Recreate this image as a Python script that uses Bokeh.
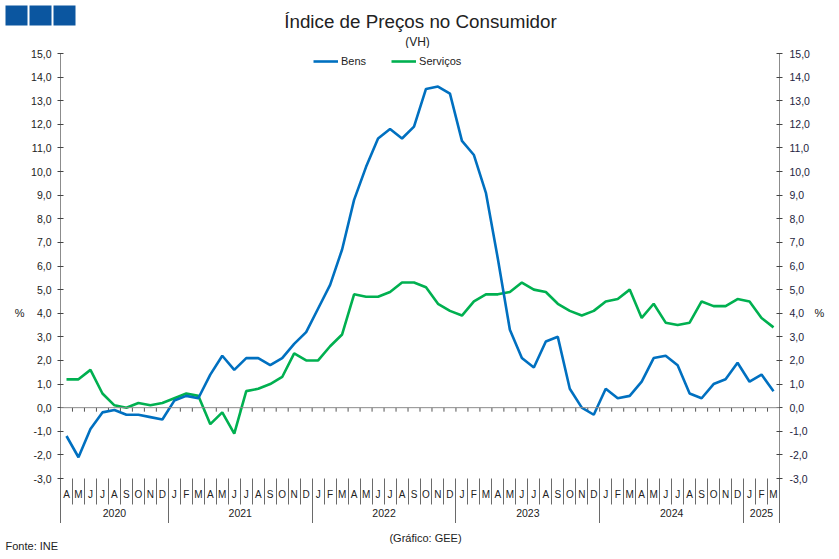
from bokeh.plotting import figure
from bokeh.layouts import column
from bokeh.models import (Range1d, LinearAxis, FixedTicker, Label, Span, Legend,
                          LegendItem, ColumnDataSource)
from bokeh.embed import file_html
from bokeh.resources import INLINE

# ---- data ----
years = ["2020", "2021", "2022", "2023", "2024", "2025"]
months_per_year = [9, 12, 12, 12, 12, 3]
month_labels = (["A", "M", "J", "J", "A", "S", "O", "N", "D"]
                + ["J", "F", "M", "A", "M", "J", "J", "A", "S", "O", "N", "D"] * 4
                + ["J", "F", "M"])
bens = [-1.2, -2.1, -0.9, -0.2, -0.1, -0.3, -0.3, -0.4, -0.5,
        0.3, 0.5, 0.4, 1.4, 2.2, 1.6, 2.1, 2.1, 1.8, 2.1, 2.7, 3.2,
        4.2, 5.2, 6.7, 8.8, 10.2, 11.4, 11.8, 11.4, 11.9, 13.5, 13.6, 13.3,
        11.3, 10.7, 9.1, 6.3, 3.3, 2.1, 1.7, 2.8, 3.0, 0.8, 0.0, -0.3,
        0.8, 0.4, 0.5, 1.1, 2.1, 2.2, 1.8, 0.6, 0.4, 1.0, 1.2, 1.9,
        1.1, 1.4, 0.7]
servicos = [1.2, 1.2, 1.6, 0.6, 0.1, 0.0, 0.2, 0.1, 0.2,
            0.4, 0.6, 0.5, -0.7, -0.2, -1.1, 0.7, 0.8, 1.0, 1.3, 2.3, 2.0,
            2.0, 2.6, 3.1, 4.8, 4.7, 4.7, 4.9, 5.3, 5.3, 5.1, 4.4, 4.1,
            3.9, 4.5, 4.8, 4.8, 4.9, 5.3, 5.0, 4.9, 4.4, 4.1, 3.9, 4.1,
            4.5, 4.6, 5.0, 3.8, 4.4, 3.6, 3.5, 3.6, 4.5, 4.3, 4.3, 4.6,
            4.5, 3.8, 3.4]
y_ticks = list(range(-3, 16))

FONT = "Liberation Sans"
BLUE = "#0070C0"
GREEN = "#00B050"
TXT = "#222222"

n = len(month_labels)
x = list(range(n))
bounds = [i - 0.5 for i in range(n + 1)]
year_bounds = [-0.5]
year_centers = []
s = 0
for c in months_per_year:
    year_centers.append(s + (c - 1) / 2)
    s += c
    year_bounds.append(s - 0.5)

W = 839
HEAD_H = 48
FOOT_H = 36


def blank(h):
    f = figure(width=W, height=h, x_range=Range1d(0, W), y_range=Range1d(h, 0),
               output_backend="svg", toolbar_location=None, title=None,
               x_axis_location=None, y_axis_location=None, frame_align=False,
               min_border_left=0, min_border_right=0, min_border_top=0, min_border_bottom=0)
    f.grid.visible = False
    f.outline_line_color = None
    f.background_fill_color = "white"
    f.border_fill_color = "white"
    return f


def lab(f, text, xs, ys, size, align="center", color=TXT):
    f.add_layout(Label(x=xs, y=ys, text=text, text_font=FONT, text_font_size=size,
                       text_align=align, text_baseline="middle", text_color=color))


# ---- header ----
head = blank(HEAD_H)
head.quad(left=[5, 29, 53], right=[27, 51, 75], top=[5, 5, 5], bottom=[25, 25, 25],
          fill_color="#0B56A0", line_color=None)
lab(head, "Índice de Preços no Consumidor", 420, 21, "18.8px")
lab(head, "(VH)", 417, 41, "12px")

# ---- main chart ----
p = figure(width=W, height=5 + 425 + 45, x_range=Range1d(-0.5, n - 0.5), y_range=Range1d(-3, 15),
           output_backend="svg", toolbar_location=None, x_axis_location=None, title=None,
           frame_align=False,
           min_border_left=60, min_border_right=60, min_border_top=5, min_border_bottom=45)
p.grid.visible = False
p.outline_line_color = None
p.background_fill_color = "white"
p.border_fill_color = "white"

ylabels = {v: f"{v},0" for v in y_ticks}


def style_y(ax, standoff, color):
    ax.ticker = FixedTicker(ticks=y_ticks)
    ax.major_label_overrides = ylabels
    ax.minor_tick_line_color = None
    ax.major_tick_in = 3
    ax.major_tick_out = 3
    ax.major_tick_line_color = "#444444"
    ax.axis_line_color = "#8c8c8c"
    ax.major_label_text_font = FONT
    ax.major_label_text_font_size = "10.5px"
    ax.major_label_text_color = color
    ax.major_label_standoff = standoff


def pct_axis(standoff):
    return LinearAxis(ticker=FixedTicker(ticks=[4]), major_label_overrides={4: "%"},
                      axis_line_color=None, major_tick_line_color=None,
                      minor_tick_line_color=None, major_tick_in=0, major_tick_out=0,
                      major_label_standoff=standoff, major_label_text_font=FONT,
                      major_label_text_font_size="11px", major_label_text_color=TXT)


style_y(p.yaxis[0], 6, TXT)
p.add_layout(pct_axis(4), "left")
ry = LinearAxis()
style_y(ry, 7, "#1e1e40")
p.add_layout(ry, "right")
p.add_layout(pct_axis(2), "right")

# month axis and year axis
ma = LinearAxis(ticker=FixedTicker(ticks=x, minor_ticks=bounds),
                major_label_overrides={i: m for i, m in enumerate(month_labels)},
                major_tick_line_color=None, major_tick_in=0, major_tick_out=0,
                minor_tick_in=0, minor_tick_out=26, minor_tick_line_color="#6a6a6a",
                axis_line_color=None, major_label_standoff=-16,
                major_label_text_font=FONT, major_label_text_font_size="10px",
                major_label_text_color=TXT)
p.add_layout(ma, "below")
ya = LinearAxis(ticker=FixedTicker(ticks=year_centers, minor_ticks=year_bounds),
                major_label_overrides={c: y for c, y in zip(year_centers, years)},
                major_tick_line_color=None, major_tick_in=0, major_tick_out=0,
                minor_tick_in=0, minor_tick_out=22, minor_tick_line_color="#6a6a6a",
                axis_line_color=None, major_label_standoff=-16,
                major_label_text_font=FONT, major_label_text_font_size="10.5px",
                major_label_text_color=TXT)
p.add_layout(ya, "below")

# zero line with ticks
p.add_layout(Span(location=0, dimension="width", line_color="#8c8c8c", line_width=1))
p.segment(x0=bounds[1:-1], y0=0, x1=bounds[1:-1], y1=-0.17, line_color="#555555", line_width=1)

src = ColumnDataSource(dict(x=x, bens=bens, serv=servicos))
r2 = p.line("x", "serv", source=src, line_color=GREEN, line_width=2.6)
r1 = p.line("x", "bens", source=src, line_color=BLUE, line_width=2.6)

legend = Legend(items=[LegendItem(label="Bens", renderers=[r1]),
                       LegendItem(label="Serviços", renderers=[r2])],
                orientation="horizontal", location=(253, 411),
                glyph_width=25, glyph_height=12, label_height=12, label_standoff=3,
                spacing=25, padding=0, margin=0, border_line_color=None,
                background_fill_alpha=0, label_text_font=FONT,
                label_text_font_size="11px", label_text_color=TXT)
p.add_layout(legend)

# ---- footer ----
foot = blank(FOOT_H)
lab(foot, "(Gráfico: GEE)", 425, 14, "11px")
lab(foot, "Fonte: INE", 5, 22, "11px", align="left")

layout = column(head, p, foot, spacing=0)
open("out.html", "w").write(file_html(layout, INLINE))
